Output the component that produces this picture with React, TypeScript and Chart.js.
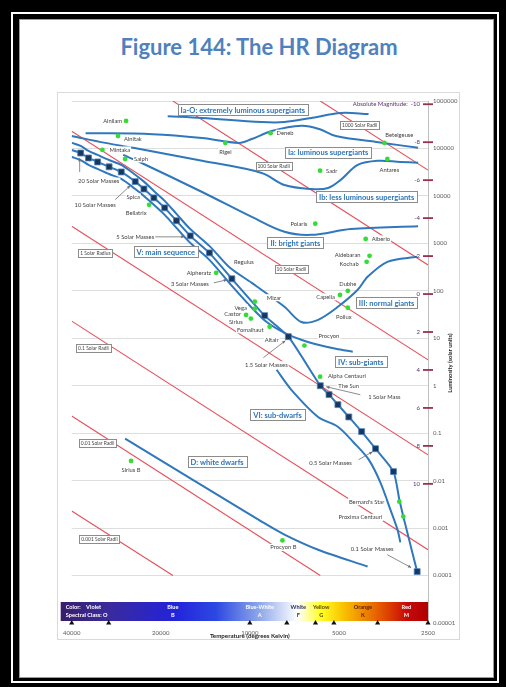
import React, { useEffect, useRef } from 'react';
import { Chart, registerables } from 'chart.js';

Chart.register(...registerables);
Chart.defaults.font.family = 'Lato';

// ---------------- axes ----------------
const tempTicks = [40000, 20000, 10000, 5000, 2500];
const lumTicks = [0.00001, 0.0001, 0.001, 0.01, 0.1, 1, 10, 100, 1000, 10000, 100000, 1000000];
const lumTickLabels = ['0.00001', '0.0001', '0.001', '0.01', '0.1', '1', '10', '100', '1000', '10000', '100000', '1000000'];
const absMagnitudes = [-10, -8, -6, -4, -2, 0, 2, 4, 6, 8, 10];
const spectralBoundaryTemps = [40000, 30000, 10000, 7500, 6000, 5200, 3700, 2500];

// ---------------- colour bar ----------------
const colorNames = ['Violet', 'Blue', 'Blue-White', 'White', 'Yellow', 'Orange', 'Red'];
const spectralClasses = ['O', 'B', 'A', 'F', 'G', 'K', 'M'];
const classCentreTemps = [0, 18200, 9260, 6860, 5740, 4150, 2960];

// ---------------- constant radius lines ----------------
const radiusNames = ['1000 Solar Radii', '100 Solar Radii', '10 Solar Radii', '1 Solar Radius', '0.1 Solar Radii', '0.01 Solar Radii', '0.001 Solar Radii'];
const radiusStartT = [5780, 18200, 40000, 40000, 40000, 40000, 40000];
const radiusStartL = [1000000, 1000000, 230000, 2300, 23, 0.23, 0.0023];
const radiusEndT = [2500, 2500, 2500, 2500, 2500, 5780, 18200];
const radiusEndL = [35000, 350, 3.5, 0.035, 0.00035, 0.0001, 0.0001];
const radiusLabelT = [4255, 8310, 7240, 33250, 33780, 32700, 32240];
const radiusLabelL = [310000, 43000, 290, 630, 6.3, 0.063, 0.0006];

// ---------------- luminosity class boundaries ----------------
const iaoT = [18950, 14500, 9120, 7640, 6200, 4920, 3970];
const iaoL = [480000, 440000, 360000, 360000, 440000, 560000, 530000];
const iaT = [35900, 21300, 14500, 10900, 9850, 8440, 6700, 5830, 5120, 3540, 2700];
const iaL = [210000, 200000, 166000, 131000, 158000, 233000, 300000, 257000, 183000, 131000, 103000];
const ibT = [40000, 30800, 24800, 14500, 9120, 7640, 6200, 5440, 4920, 4320, 3700, 3100, 2700];
const ibL = [183000, 131000, 103000, 55000, 30500, 17000, 14000, 14700, 22000, 45000, 55000, 52000, 50000];
const iiT = [26800, 23300, 14500, 9850, 7640, 6200, 4560, 2700];
const iiL = [73000, 50000, 12100, 3600, 1750, 1510, 2000, 2300];
const iiiT = [40000, 37300, 35100, 32700, 29900, 27200, 24400, 22800, 21100, 19400, 17700, 15900, 13700, 11670, 9850, 7640, 6700, 5880, 5040, 4320, 4000, 3430, 2720];
const iiiL = [131000, 113000, 89000, 73000, 57000, 45000, 28000, 20000, 12700, 7850, 4180, 2000, 885, 305, 147, 46, 22, 24.5, 46, 105, 197, 408, 520];
const ivT = [40000, 37300, 35100, 32700, 29900, 27200, 24400, 22800, 21100, 19400, 17700, 15900, 13700, 11500, 9850, 8770, 7640, 6700, 5880, 5120, 4490];
const ivL = [66000, 57000, 45000, 37000, 29000, 22800, 14000, 10000, 6500, 3980, 2120, 1025, 450, 127, 44, 22, 13, 9.3, 7.3, 6.0, 5.2];
const msT = [40000, 37300, 35100, 32700, 29900, 27200, 24400, 22800, 21100, 19400, 17700, 15900, 13700, 11500, 8910, 7410, 5780, 5400, 5040, 4630, 4190, 3760, 3270, 3125, 3030, 2940, 2830, 2720];
const msL = [93000, 80000, 63000, 52000, 41000, 32000, 20000, 14000, 9100, 5600, 3000, 1440, 630, 179, 30, 10.8, 1, 0.65, 0.4, 0.22, 0.108, 0.047, 0.0155, 0.004, 0.00175, 0.00084, 0.00032, 0.000121];
const sdT = [8120, 7240, 5880, 5040, 4450, 3970, 3620, 3350, 3170, 3100];
const sdL = [2.17, 0.82, 0.22, 0.137, 0.063, 0.028, 0.0091, 0.00245, 0.00093, 0.0005];
const wdT = [26400, 15630, 9120, 7640, 5880, 4000];
const wdL = [0.077, 0.0105, 0.00137, 0.00073, 0.00035, 0.000155];

// ---------------- main-sequence mass points ----------------
const massT = [37300, 35100, 32700, 29900, 27200, 24400, 22800, 21100, 19400, 17700, 15900, 13700, 11500, 8910, 7410, 5780, 5400, 5040, 4630, 4190, 3760, 3270, 2720];
const massL = [80000, 63000, 52000, 41000, 32000, 20000, 14000, 9100, 5600, 3000, 1440, 630, 179, 30, 10.8, 1, 0.65, 0.4, 0.22, 0.108, 0.047, 0.0155, 0.000121];
const massNames = ['20 Solar Masses', '10 Solar Masses', '5 Solar Masses', '3 Solar Masses', '1.5 Solar Masses', '1 Solar Mass', '0.5 Solar Masses', '0.1 Solar Masses'];
const massNamePoint = [0, 5, 10, 12, 14, 15, 20, 22];

// ---------------- stars ----------------
const starNames = ['Alnilam', 'Alnitak', 'Mintaka', 'Saiph', 'Bellatrix', 'Rigel', 'Deneb', 'Betelgeuse', 'Antares', 'Sadr', 'Polaris', 'Alberio', 'Aldebaran', 'Kochab', 'Dubhe', 'Capella', 'Pollux', 'Mizar', 'Alpheratz', 'Vega', 'Castor', 'Sirius', 'Fomalhaut', 'Procyon', 'Alpha Centauri', "Bernard's Star", 'Proxima Centauri', 'Sirius B', 'Procyon B'];
const starTemps = [26200, 27900, 31500, 26400, 21900, 12100, 8510, 3510, 3430, 5790, 6010, 4060, 3940, 4030, 4665, 4960, 4665, 9620, 13000, 9620, 10300, 9920, 8570, 6540, 5790, 3125, 3030, 25200, 7760];
const starLums = [380000, 183000, 93000, 60000, 6500, 131000, 210000, 131000, 60000, 34000, 2600, 1240, 546, 408, 100, 82, 44, 59, 240, 42, 31, 26, 17.5, 7.0, 1.55, 0.0036, 0.00175, 0.026, 0.00055];
// stars whose dots are hidden under the main sequence
const hiddenStarNames = ['Spica', 'Regulus', 'Altair'];
const hiddenStarTemps = [24800, 10470, 8440];
const hiddenStarLums = [9530, 408, 9.3];

// ---------------- region labels ----------------
const regionNames = ['Ia-O: extremely luminous supergiants', 'Ia: luminous supergiants', 'Ib: less luminous supergiants', 'II: bright giants', 'III: normal giants', 'IV: sub-giants', 'V: main sequence', 'VI: sub-dwarfs', 'D: white dwarfs'];
const regionTemps = [10560, 5440, 4030, 7020, 3450, 4220, 19240, 8060, 12900];
const regionLums = [650000, 84000, 9500, 1020, 56, 3.2, 660, 0.245, 0.025];

// ---------------- styling (not data) ----------------
const BLUE = '#2f78bd';
const RED = '#e6505c';
const GREEN = '#36dc36';
const TXT = '#3f3f3f';
const LABEL_FONT = '5.8px Lato';
const colorStops: [number, string][] = [
  [43500, '#3a1e6c'], [30000, '#3a2a9c'], [18000, '#2323da'], [13000, '#2d48e2'], [9300, '#8ea7ea'],
  [6900, '#ffffff'], [5750, '#ffff22'], [4800, '#f8c000'], [4150, '#f08a00'], [3500, '#e04a00'], [2950, '#c70a0a'], [2500, '#b00000'],
];
const classTextColors = ['#ffffff', '#ffffff', '#ffffff', '#1f2a5a', '#5a4600', '#5a1c00', '#ffffff'];
const starLabelLayout: [number, number, CanvasTextAlign][] = [
  [-4, 0, 'right'], [6, 3, 'left'], [7, 0, 'left'], [9, 0, 'left'], [-13, 8, 'center'], [0, 9, 'center'],
  [6, 0, 'left'], [15, -8, 'center'], [2, 11, 'center'], [6, 0, 'left'], [-8, 0, 'right'], [6, 0, 'left'],
  [-9, -1, 'right'], [-8, 2, 'right'], [0, -7, 'center'], [-5, 2, 'right'], [-4, 9, 'center'], [12, -4, 'left'],
  [-5, 0, 'right'], [-8, -1, 'right'], [-5, -1, 'right'], [-15, 4, 'center'], [-6, 3, 'right'], [14, -9, 'left'],
  [8, -1, 'left'], [-15, 0, 'right'], [-21, 1, 'right'], [0, 9, 'center'], [1, 7, 'center'],
];
const massLabelLayout: [number, number, number, number, number, number][] = [
  [18, 28, -1, 19, -1, 5], [-40, 24, -20, 18, -5, 4], [-55, 1, -35, 1, -6, 1], [-42, 5, -18, 4, -5, 1],
  [-22, 28, -25, 21, -3, 4], [64, 11, 40, 9, 6, 1], [-45, 14, -17, 11, -3, 3], [-45, -22, -30, -17, -6, -4],
];

const pts = (ts: number[], ls: number[]) => ts.map((t, i) => ({ x: t, y: ls[i] }));

function textBg(ctx: CanvasRenderingContext2D, text: string, x: number, y: number, align: CanvasTextAlign, font: string, color: string) {
  ctx.font = font;
  const w = ctx.measureText(text).width;
  const lx = align === 'left' ? x : align === 'right' ? x - w : x - w / 2;
  ctx.fillStyle = '#ffffff';
  ctx.fillRect(lx - 1, y - 3.5, w + 2, 7);
  ctx.fillStyle = color;
  ctx.textAlign = align;
  ctx.textBaseline = 'middle';
  ctx.fillText(text, x, y);
}

function box(ctx: CanvasRenderingContext2D, text: string, cx: number, cy: number, font: string, color: string, padX: number, h: number) {
  ctx.font = font;
  const w = Math.round(ctx.measureText(text).width + padX * 2);
  const l = Math.round(cx - w / 2) + 0.5;
  const t = Math.round(cy - h / 2) + 0.5;
  ctx.fillStyle = '#ffffff';
  ctx.fillRect(l, t, w, h);
  ctx.strokeStyle = '#8c8c8c';
  ctx.lineWidth = 1;
  ctx.strokeRect(l, t, w, h);
  ctx.fillStyle = color;
  ctx.textAlign = 'center';
  ctx.textBaseline = 'middle';
  ctx.fillText(text, cx, cy + 0.5);
}

function arrow(ctx: CanvasRenderingContext2D, x1: number, y1: number, x2: number, y2: number) {
  ctx.strokeStyle = '#6f6f6f';
  ctx.fillStyle = '#6f6f6f';
  ctx.lineWidth = 0.8;
  ctx.beginPath();
  ctx.moveTo(x1, y1);
  ctx.lineTo(x2, y2);
  ctx.stroke();
  const a = Math.atan2(y2 - y1, x2 - x1);
  const s = 3.5;
  ctx.beginPath();
  ctx.moveTo(x2, y2);
  ctx.lineTo(x2 - s * Math.cos(a - 0.45), y2 - s * Math.sin(a - 0.45));
  ctx.lineTo(x2 - s * Math.cos(a + 0.45), y2 - s * Math.sin(a + 0.45));
  ctx.closePath();
  ctx.fill();
}

const overlay = {
  id: 'hrOverlay',
  beforeDatasetsDraw(chart: any) {
    const { ctx, chartArea: a, scales } = chart;
    const xs = scales.x;
    ctx.save();
    const left = a.left - 11;
    const right = a.right;
    const top = a.bottom - 21;
    const g = ctx.createLinearGradient(left, 0, right, 0);
    colorStops.forEach(([t, c]) => {
      const p = (xs.getPixelForValue(t) - left) / (right - left);
      g.addColorStop(Math.min(1, Math.max(0, p)), c);
    });
    ctx.fillStyle = g;
    ctx.fillRect(left, top, right - left, 19);
    ctx.font = 'bold 5.6px Lato';
    ctx.textBaseline = 'middle';
    ctx.textAlign = 'left';
    ctx.fillStyle = '#ffffff';
    ctx.fillText('Color:    ' + colorNames[0], left + 5, top + 5.5);
    ctx.fillText('Spectral Class: ' + spectralClasses[0], left + 5, top + 13);
    ctx.textAlign = 'center';
    for (let i = 1; i < colorNames.length; i++) {
      const cx = xs.getPixelForValue(classCentreTemps[i]);
      ctx.fillStyle = classTextColors[i];
      ctx.fillText(colorNames[i], cx, top + 5.5);
      ctx.fillText(spectralClasses[i], cx, top + 13);
    }
    ctx.restore();
  },
  afterDatasetsDraw(chart: any) {
    const { ctx, chartArea: a, scales } = chart;
    const xs = scales.x;
    const ys = scales.y;
    const P = (t: number, l: number) => [xs.getPixelForValue(t), ys.getPixelForValue(l)];
    ctx.save();

    // absolute magnitude ticks
    absMagnitudes.forEach((m) => {
      const y = ys.getPixelForValue(Math.pow(10, (4.83 - m) / 2.5));
      ctx.strokeStyle = '#9b2f4f';
      ctx.lineWidth = 1.8;
      ctx.beginPath();
      ctx.moveTo(a.right - 5, y);
      ctx.lineTo(a.right + 5, y);
      ctx.stroke();
      ctx.font = '6px Lato';
      ctx.fillStyle = '#5e2f6e';
      ctx.textAlign = 'right';
      ctx.textBaseline = 'middle';
      const label = m === -10 ? 'Absolute Magnitude:  -10' : String(m);
      ctx.fillText(label, a.right - 8, y);
    });

    // radius labels
    radiusNames.forEach((n, i) => {
      const [x, y] = P(radiusLabelT[i], radiusLabelL[i]);
      box(ctx, n, x, y, '4.9px Lato', TXT, 2, 8);
    });

    // region labels
    regionNames.forEach((n, i) => {
      const [x, y] = P(regionTemps[i], regionLums[i]);
      box(ctx, n, x, y, 'bold 7.5px Lato', '#2e74b5', 3, 11);
    });

    // star labels
    starNames.forEach((n, i) => {
      const [x, y] = P(starTemps[i], starLums[i]);
      const [dx, dy, al] = starLabelLayout[i];
      textBg(ctx, n, x + dx, y + dy, al, LABEL_FONT, TXT);
    });
    hiddenStarNames.forEach((n, i) => {
      const [x, y] = P(hiddenStarTemps[i], hiddenStarLums[i]);
      textBg(ctx, n, x, y, 'center', LABEL_FONT, TXT);
    });
    {
      const [x, y] = P(massT[15], massL[15]);
      textBg(ctx, 'The Sun', x + 18, y, 'left', LABEL_FONT, TXT);
    }

    // mass labels and arrows
    massNames.forEach((n, i) => {
      const k = massNamePoint[i];
      const [x, y] = P(massT[k], massL[k]);
      const [lx, ly, ax1, ay1, ax2, ay2] = massLabelLayout[i];
      textBg(ctx, n, x + lx, y + ly, 'center', LABEL_FONT, TXT);
      arrow(ctx, x + ax1, y + ay1, x + ax2, y + ay2);
    });

    // axis titles
    ctx.font = 'bold 6.2px Lato';
    ctx.fillStyle = '#262626';
    ctx.textAlign = 'center';
    ctx.textBaseline = 'middle';
    ctx.fillText('Temperature (degrees Kelvin)', xs.getPixelForValue(10000), a.bottom + 13);
    ctx.translate(a.right + 22, ys.getPixelForValue(3));
    ctx.rotate(-Math.PI / 2);
    ctx.font = 'bold 5.8px Lato';
    ctx.fillText('Luminosity (solar units)', 0, 0);
    ctx.restore();
  },
};

export default function App() {
  const ref = useRef<HTMLCanvasElement | null>(null);

  useEffect(() => {
    if (!ref.current) return;
    const curve = (t: number[], l: number[], color: string, width: number, tension: number, order: number) => ({
      data: pts(t, l), showLine: true, borderColor: color, backgroundColor: color, borderWidth: width,
      pointRadius: 0, tension, order,
    });
    const datasets: any[] = [];
    radiusNames.forEach((_, i) => {
      datasets.push(curve([radiusStartT[i], radiusEndT[i]], [radiusStartL[i], radiusEndL[i]], RED, 1.1, 0, 6));
    });
    datasets.push(curve(iaoT, iaoL, BLUE, 2, 0.35, 5));
    datasets.push(curve(iaT, iaL, BLUE, 2, 0.35, 5));
    datasets.push(curve(ibT, ibL, BLUE, 2, 0.35, 5));
    datasets.push(curve(iiT, iiL, BLUE, 2, 0.35, 5));
    datasets.push(curve(iiiT, iiiL, BLUE, 2, 0.3, 5));
    datasets.push(curve(ivT, ivL, BLUE, 2, 0.3, 5));
    datasets.push(curve(msT, msL, BLUE, 2, 0.2, 5));
    datasets.push(curve(sdT, sdL, BLUE, 2, 0.3, 5));
    datasets.push(curve(wdT, wdL, BLUE, 2, 0.3, 5));
    datasets.push({
      data: pts(starTemps, starLums), pointStyle: 'circle', pointRadius: 2.4,
      backgroundColor: GREEN, borderColor: GREEN, borderWidth: 0, order: 3,
    });
    datasets.push({
      data: pts(massT, massL), pointStyle: 'rect', pointRadius: 4.2,
      backgroundColor: '#17375e', borderColor: '#4f81bd', borderWidth: 0.8, order: 2,
    });
    datasets.push({
      data: spectralBoundaryTemps.map((t) => ({ x: t, y: lumTicks[0] })), pointStyle: 'triangle', pointRadius: 3,
      backgroundColor: '#111111', borderColor: '#111111', borderWidth: 0, order: 1, clip: false,
    });

    const chart = new Chart(ref.current, {
      type: 'scatter',
      data: { datasets },
      options: {
        responsive: false,
        animation: false,
        devicePixelRatio: 1,
        events: [],
        layout: { padding: { left: 11, top: 9, right: 0, bottom: 0 } },
        plugins: { legend: { display: false }, tooltip: { enabled: false } },
        scales: {
          x: {
            type: 'logarithmic', reverse: true, min: 2500, max: 40000, position: 'bottom',
            grid: { display: false, drawTicks: false }, border: { display: false },
            afterBuildTicks: (s: any) => { s.ticks = tempTicks.map((v) => ({ value: v })); },
            afterFit: (s: any) => { s.height = 17; },
            ticks: {
              autoSkip: false, maxRotation: 0, padding: 6, color: '#595959', font: { size: 6, family: 'Lato' },
              callback: (v: any) => String(v),
            },
          },
          y: {
            type: 'logarithmic', position: 'right', min: 0.00001, max: 1000000,
            grid: {
              drawTicks: false, lineWidth: 1,
              color: (c: any) => (c.tick && c.tick.value === lumTicks[0] ? 'rgba(0,0,0,0)' : '#dedede'),
            },
            border: { display: true, color: '#bfbfbf' },
            afterBuildTicks: (s: any) => { s.ticks = lumTicks.map((v) => ({ value: v })); },
            afterFit: (s: any) => { s.width = 32; },
            ticks: {
              autoSkip: false, padding: 5, crossAlign: 'near', color: '#595959', font: { size: 6, family: 'Lato' },
              callback: (_v: any, i: number) => lumTickLabels[i],
            },
          },
        },
      } as any,
      plugins: [overlay],
    });
    return () => chart.destroy();
  }, []);

  return (
    <div style={{ position: 'fixed', left: 0, top: 0, width: 506, height: 687, background: '#000', overflow: 'hidden' }}>
      <div style={{ position: 'absolute', left: 11, top: 12, width: 488, height: 671, border: '2px solid #fff', boxSizing: 'border-box' }} />
      <div style={{ position: 'absolute', left: 20, top: 20, width: 473, height: 657, background: '#fff', boxShadow: '0 0 0 1px #9a9a9a' }} />
      <div style={{
        position: 'absolute', left: 20, top: 35, width: 478, textAlign: 'center', fontFamily: 'Lato',
        fontWeight: 'bold', fontSize: 22, lineHeight: '24px', color: '#4f81bd',
      }}>Figure 144: The HR Diagram</div>
      <div style={{ position: 'absolute', left: 57, top: 92, width: 403, height: 548, border: '1px solid #d9d9d9', boxSizing: 'border-box' }} />
      <canvas ref={ref} width={403} height={548} style={{ position: 'absolute', left: 57, top: 92, width: 403, height: 548 }} />
    </div>
  );
}
